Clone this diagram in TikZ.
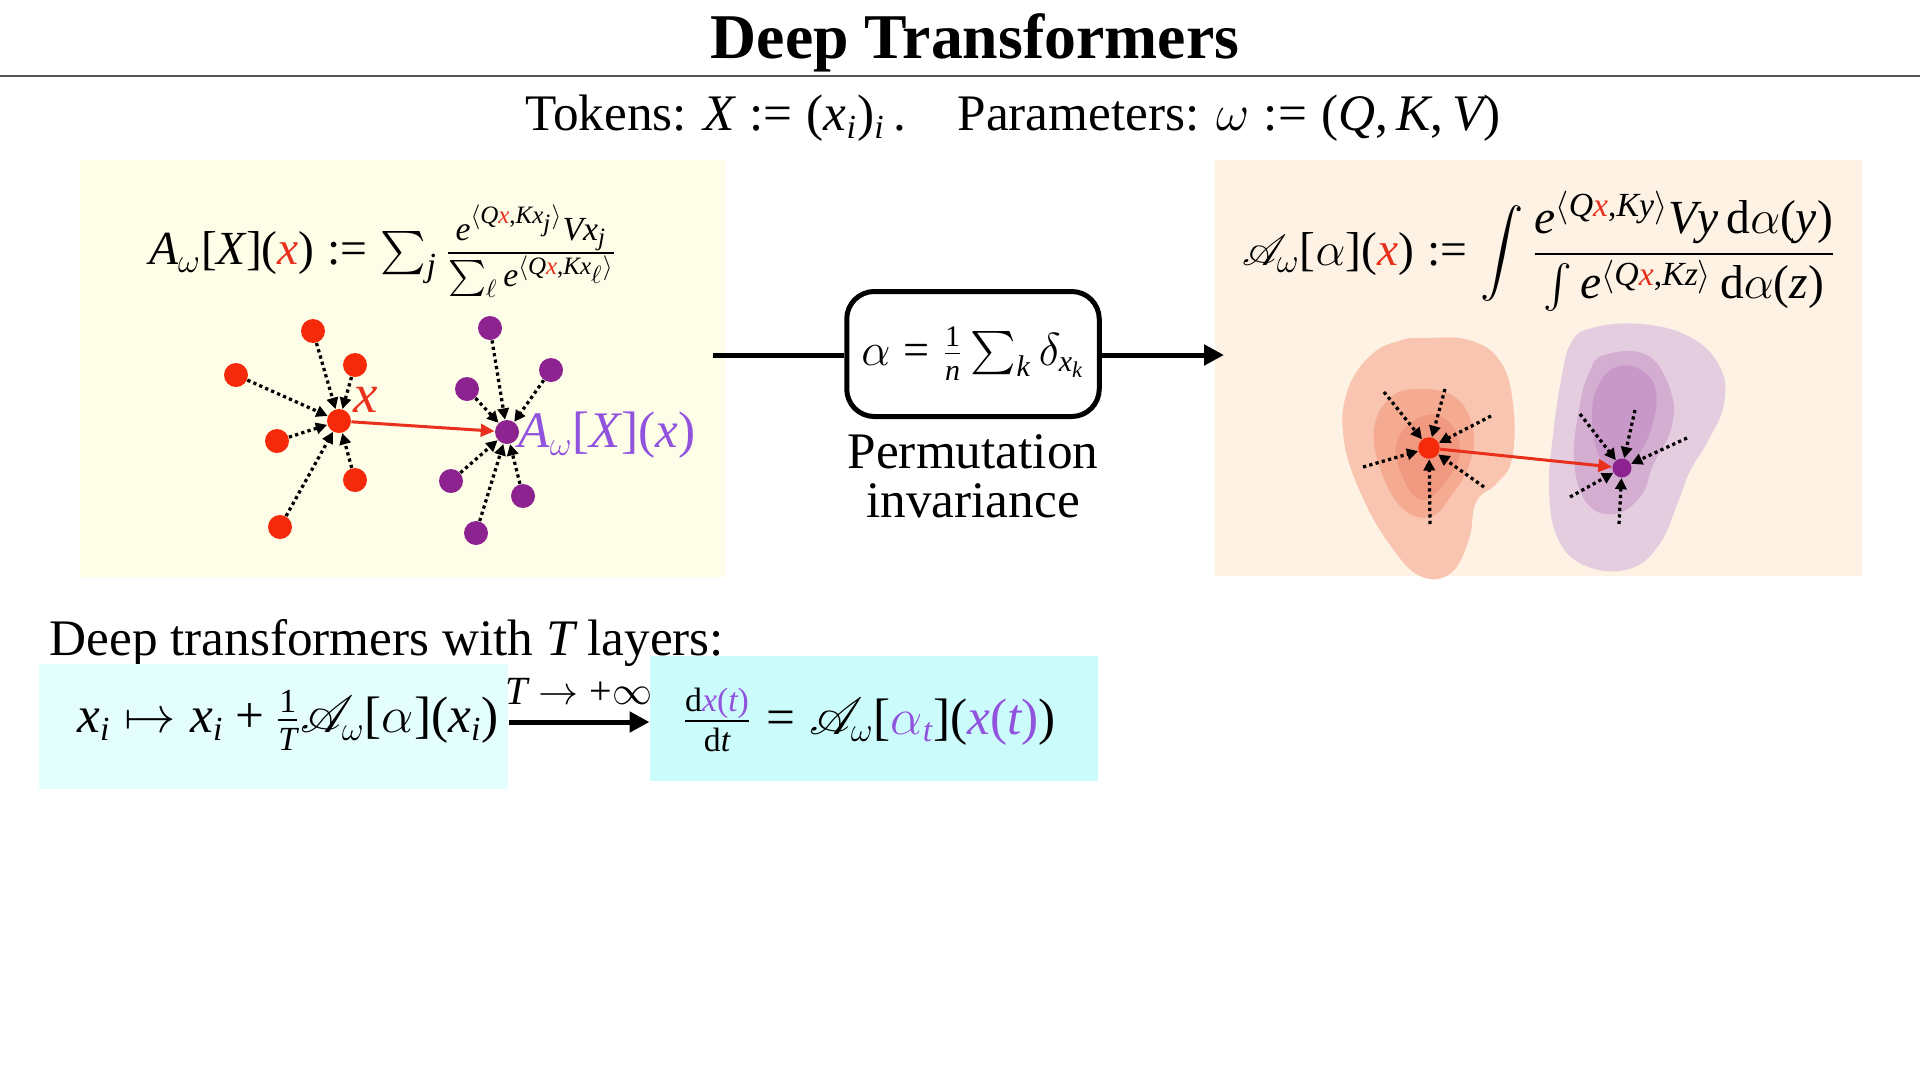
\documentclass[tikz,border=0pt]{standalone}
\usepackage{fix-cm}
\usepackage{exscale}
\usepackage[no-math]{fontspec}
\setmainfont{Liberation Serif}
\IfFileExists{mathastext.sty}{\usepackage[italic]{mathastext}}{}
\IfFileExists{mathrsfs.sty}{\usepackage{mathrsfs}}{\let\mathscr\mathcal}
\DeclareMathSizes{20.5}{20.5}{13.5}{10}
\DeclareMathSizes{19}{19}{13.5}{10}
\DeclareMathSizes{18.5}{18.5}{12}{9}
\DeclareMathSizes{16}{16}{11}{8}
\usetikzlibrary{arrows.meta,calc}
\definecolor{yellowbg}{HTML}{FEFDE8}
\definecolor{peachbg}{HTML}{FDF2E4}
\definecolor{cyanA}{HTML}{E4FEFE}
\definecolor{cyanB}{HTML}{CCFBFB}
\definecolor{dotred}{HTML}{F42A0A}
\definecolor{dotpurple}{HTML}{8C2390}
\definecolor{vio}{HTML}{9152DE}
\definecolor{xred}{HTML}{E8301C}
\definecolor{rulegray}{HTML}{555555}
\definecolor{ro}{HTML}{F9C5B1}
\definecolor{rm}{HTML}{F5AB92}
\definecolor{ri}{HTML}{F19880}
\definecolor{po}{HTML}{E5CDE0}
\definecolor{pm}{HTML}{D3AED1}
\definecolor{pi}{HTML}{C898C8}
\begin{document}
\begin{tikzpicture}[x=0.4pt,y=-0.4pt,
  every node/.style={font=\fontsize{20.5}{25}\selectfont, inner sep=0pt},
  fmla/.style={font=\fontsize{19}{23}\selectfont},
  rdot/.style={circle, fill=dotred, minimum size=9.6pt},
  pdot/.style={circle, fill=dotpurple, minimum size=9.6pt},
  srdot/.style={circle, fill=dotred, minimum size=8.6pt},
  spdot/.style={circle, fill=dotpurple, minimum size=7.6pt},
  darr/.style={line width=1.3pt, dash pattern=on 1.3pt off 1.3pt, -{Triangle[length=4.5pt,width=4.5pt]}},
  redarr/.style={xred, line width=1.2pt, -{Triangle[length=5.5pt,width=5pt]}},
  bigline/.style={line width=2pt},
  bigarr/.style={line width=2pt, -{Triangle[length=8pt,width=8pt]}},
  bgbox/.style={draw=none}
]
\fill[white] (0,0) rectangle (1920,1080);
\useasboundingbox (0,0) rectangle (1920,1080);

% title
\node[font=\fontsize{25.5}{30}\selectfont\bfseries] (title) at (975,43) {Deep Transformers};
\draw[rulegray, line width=0.9pt] (0,76) -- (1920,76);
\node (tok) at (1013,118) {Tokens: $X := (x_i)_i$\,.\quad Parameters: $\omega := (Q,K,V)$};

% background boxes
\node[bgbox, fill=yellowbg, minimum width=258pt, minimum height=166.8pt] (ybox) at (402.5,368.5) {};
\node[bgbox, fill=peachbg, minimum width=258.8pt, minimum height=166.4pt] (pbox) at (1538.5,368) {};

% left formula
\node[fmla] (fA) at (383,251) {$A_\omega[X](\textcolor{xred}{x}) := \sum_j \frac{e^{\langle Q\textcolor{xred}{x},Kx_j\rangle}Vx_j}{\sum_\ell e^{\langle Q\textcolor{xred}{x},Kx_\ell\rangle}}$};

% discrete tokens
\node[rdot] (rc) at (339,421) {};
\node[rdot] (r1) at (313,331) {};
\node[rdot] (r2) at (355,365) {};
\node[rdot] (r3) at (236,375) {};
\node[rdot] (r4) at (277,441) {};
\node[rdot] (r5) at (355,480) {};
\node[rdot] (r6) at (280,527) {};
\node[pdot] (pc) at (507,432) {};
\node[pdot] (p1) at (490,328) {};
\node[pdot] (p2) at (551,370) {};
\node[pdot] (p3) at (467,389) {};
\node[pdot] (p4) at (451,481) {};
\node[pdot] (p5) at (523,496) {};
\node[pdot] (p6) at (476,533) {};
\foreach \n in {r1,r2,r3,r4,r5,r6} \draw[darr] (\n) -- (rc);
\foreach \n in {p1,p2,p3,p4,p5,p6} \draw[darr] (\n) -- (pc);
\draw[redarr] (rc) -- (pc);
\node[text=xred, font=\fontsize{22}{25}\selectfont] (xl) at (366,400) {$x$};
\node[text=vio, anchor=west] (al) at (518,435) {$A_\omega[X](x)$};

% middle
\node[draw, line width=2pt, rounded corners=11pt, fill=white, minimum width=101pt, minimum height=50pt, font=\fontsize{18.5}{22}\selectfont] (mbox) at (973,354) {$\alpha = \frac{1}{n}\sum_k \delta_{x_k}$};
\coordinate (ls) at (713,355);
\coordinate (le) at (1224,355);
\draw[bigline] (ls) -- (mbox.west |- ls);
\draw[bigarr] (mbox.east |- le) -- (le);
\node[align=center, font=\fontsize{20.5}{19.6}\selectfont] (perm) at (973,476) {Permutation\\invariance};

% right formula
\node[fmla] (fB) at (1539,251) {$\displaystyle \mathscr{A}_\omega[\alpha](\textcolor{xred}{x}) := \int \frac{e^{\langle Q\textcolor{xred}{x},Ky\rangle}Vy\,\mathrm{d}\alpha(y)}{\int e^{\langle Q\textcolor{xred}{x},Kz\rangle}\,\mathrm{d}\alpha(z)}$};

% blobs
\fill[ro] plot[smooth cycle, tension=0.7] coordinates {(1427,338) (1469,340) (1500,361) (1513,404) (1512,459) (1496,484) (1476,502) (1469,539) (1451,573) (1420,576) (1390,545) (1362,496) (1344,441) (1347,392) (1371,355) (1402,340)};
\fill[rm] plot[smooth cycle, tension=0.7] coordinates {(1418,389) (1455,397) (1473,429) (1469,465) (1451,496) (1430,517) (1402,508) (1381,471) (1374,429) (1390,398)};
\fill[ri] plot[smooth cycle, tension=0.7] coordinates {(1423,416) (1449,422) (1460,451) (1447,480) (1423,500) (1403,478) (1397,441)};
\fill[po] plot[smooth cycle, tension=0.7] coordinates {(1592,328) (1641,324) (1690,337) (1720,367) (1724,404) (1708,441) (1690,471) (1678,502) (1659,545) (1629,569) (1586,566) (1558,539) (1549,490) (1553,435) (1561,380) (1571,343)};
\fill[pm] plot[smooth cycle, tension=0.7] coordinates {(1604,355) (1647,355) (1671,392) (1671,429) (1653,465) (1641,496) (1614,514) (1586,502) (1574,459) (1580,404) (1589,373)};
\fill[pi] plot[smooth cycle, tension=0.7] coordinates {(1616,367) (1641,370) (1656,392) (1651,429) (1635,459) (1616,471) (1598,453) (1592,416) (1598,386)};

\node[srdot] (rc2) at (1429,448) {};
\node[spdot] (pc2) at (1622,468) {};
\coordinate (a1) at (1384,392);
\coordinate (a2) at (1445,389);
\coordinate (a3) at (1491,416);
\coordinate (a4) at (1484,487);
\coordinate (a5) at (1430,524);
\coordinate (a6) at (1363,467);
\coordinate (b1) at (1580,414);
\coordinate (b2) at (1635,410);
\coordinate (b3) at (1687,438);
\coordinate (b4) at (1570,497);
\coordinate (b5) at (1619,524);
\foreach \n in {a1,a2,a3,a4,a5,a6} \draw[darr] (\n) -- (rc2);
\foreach \n in {b1,b2,b3,b4,b5} \draw[darr] (\n) -- (pc2);
\draw[redarr] (rc2) -- (pc2);

% bottom
\node[anchor=west] (deep) at (49,643) {Deep transformers with $T$ layers:};
\node[bgbox, fill=cyanA, minimum width=187.6pt, minimum height=50pt] (box1) at (273.5,726.5) {};
\node[bgbox, fill=cyanB, minimum width=179.2pt, minimum height=50pt] (box2) at (874,718.5) {};
\node (e1) at (288,720) {$x_i \mapsto x_i + \frac{1}{T}\mathscr{A}_\omega[\alpha](x_i)$};
\node (e2) at (869,720) {$\frac{\mathrm{d}\textcolor{vio}{x(t)}}{\mathrm{d}t} = \mathscr{A}_\omega[\textcolor{vio}{\alpha_t}](\textcolor{vio}{x(t)})$};
\coordinate (ay) at (0,722);
\draw[bigarr] (box1.east |- ay) -- node[above=6pt, font=\fontsize{16}{20}\selectfont] (lim) {$T \to +\infty$} (box2.west |- ay);
\end{tikzpicture}
\end{document}
